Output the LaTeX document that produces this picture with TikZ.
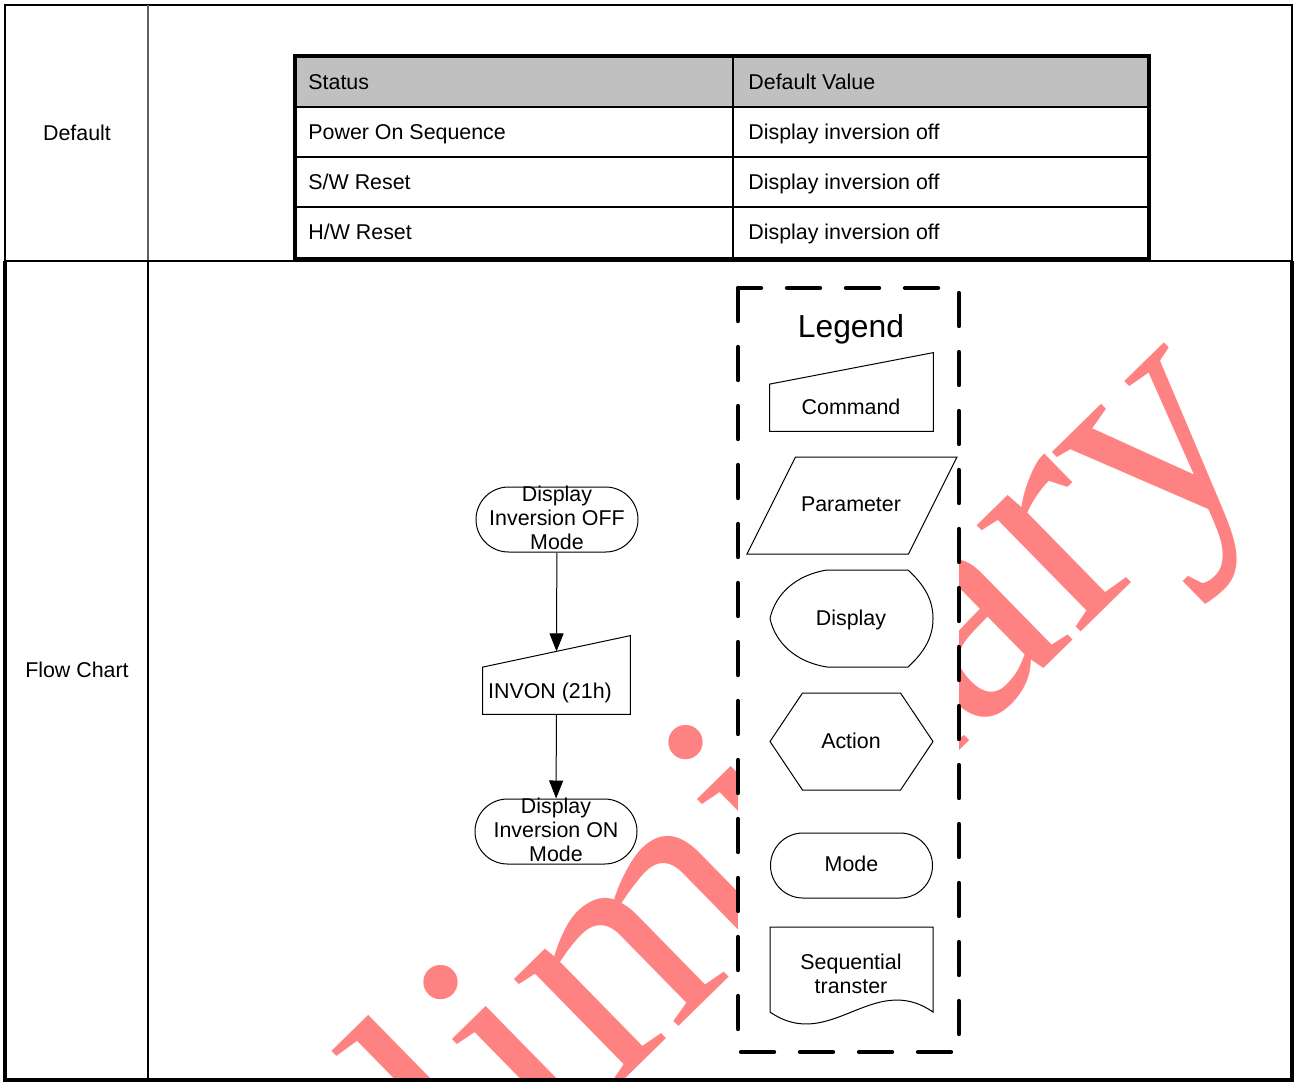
\documentclass[tikz,border=0pt]{standalone}
\usepackage{fontspec}
\setmainfont{Liberation Sans}
\newfontfamily\markfont{Liberation Serif}
\usetikzlibrary{arrows.meta,calc,shapes.misc}
\definecolor{Mark}{HTML}{FF8282}
\definecolor{Head}{HTML}{C0C0C0}
\definecolor{Rule}{HTML}{606060}
\tikzset{
  txt/.style={font=\fontsize{10.7pt}{12pt}\selectfont,align=center,inner sep=0pt},
  cell/.style={txt,anchor=base west},
  outline/.style={line width=0.5pt},
  mode/.style={draw,outline,fill=white,rounded rectangle,minimum width=81pt,minimum height=32.5pt,inner sep=0pt},
  cmdnode/.style={rectangle,minimum height=39pt,inner sep=0pt},
  flow/.style={outline,-{Triangle[length=9pt,width=7pt]}},
  legendbox/.style={fill=white,line width=2.2pt,line cap=round,dash pattern=on 16.5pt off 13pt},
  watermark/.style={font=\markfont\fontsize{162pt}{162pt}\selectfont,text=Mark,rotate=44.4,anchor=base west,inner sep=0pt}
}
\newcommand{\cmdbox}[1]{%
  \draw[outline] (#1.south west) -- (#1.south east) -- (#1.north east)
    -- ($(#1.north west)!0.4!(#1.south west)$) -- cycle;
}
\newcommand{\paramshape}[2]{%
  \draw[outline] (#1-105,#2+48.5) -- ++(161.5,0) -- ++(48.5,-97) -- ++(-161.5,0) -- cycle;
}
\newcommand{\dispshape}[2]{%
  \draw[outline] (#1+56.5,#2-48.5) -- (#1-24.5,#2-48.5)
    .. controls (#1-56.5,#2-43.5) and (#1-76.5,#2-23.5) .. (#1-81.5,#2)
    .. controls (#1-76.5,#2+23.5) and (#1-56.5,#2+43.5) .. (#1-24.5,#2+48.5)
    -- (#1+56.5,#2+48.5) .. controls (#1+73.5,#2+33) and (#1+81.5,#2+18) .. (#1+81.5,#2)
    .. controls (#1+81.5,#2-18) and (#1+73.5,#2-33) .. cycle;
}
\newcommand{\actionshape}[2]{%
  \draw[outline] (#1-81.5,#2) -- ++(32.5,-48.5) -- ++(98,0) -- ++(32.5,48.5)
    -- ++(-32.5,48.5) -- ++(-98,0) -- cycle;
}
\newcommand{\seqshape}[2]{%
  \draw[outline] (#1-81.5,#2-42.5) -- ++(163,0) -- ++(0,85)
    .. controls (#1+21.5,#2+1) and (#1-21.5,#2+84) .. (#1-81.5,#2+42.5) -- cycle;
}

\begin{document}
\begin{tikzpicture}[x=0.5pt,y=-0.5pt]
  \useasboundingbox (0,0) rectangle (1294,1082);
  \begin{scope}
    \clip (5,5) rectangle (1292,1080);
    \node[watermark] (wm) at (175.5,1518.5) {Preliminary};
  \end{scope}
  % outer frame
  \draw[line width=1pt] (5,261) -- (5,5) -- (1292,5) -- (1292,261);
  \draw[line width=1pt,Rule] (148,5) -- (148,261);
  \draw[line width=1pt] (5,261) -- (1292,261);
  \draw[line width=1.8pt] (5,261) -- (5,1080) -- (1292,1080) -- (1292,261);
  \draw[line width=1.2pt] (148,261) -- (148,1080);
  \node[txt] (default) at (77,133) {Default};
  \node[txt] (flowchart) at (77,670) {Flow Chart};
  % default value table
  \fill[Head] (295,56) rectangle (1149,107);
  \draw[line width=0.8pt] (295,107) -- (1149,107) (295,157) -- (1149,157) (295,207) -- (1149,207)
    (733,56) -- (733,259);
  \draw[line width=2pt] (295,56) rectangle (1149,259);
  \node[cell] (status) at (308,89.5) {Status};
  \node[cell] (defval) at (748,89.5) {Default Value};
  \node[cell] (pwron) at (308,139.5) {Power On Sequence};
  \node[cell] (pwronval) at (748,139.5) {Display inversion off};
  \node[cell] (swrst) at (308,189.5) {S/W Reset};
  \node[cell] (swrstval) at (748,189.5) {Display inversion off};
  \node[cell] (hwrst) at (308,239.5) {H/W Reset};
  \node[cell] (hwrstval) at (748,239.5) {Display inversion off};
  % legend
  \draw[legendbox] (738,288) rectangle (959,1052);
  \node[txt,font=\fontsize{15.9pt}{18pt}\selectfont] (legend) at (851,329) {Legend};
  \node[cmdnode,minimum width=81.5pt] (lcmd) at (851.5,392) {};
  \cmdbox{lcmd}
  \node[txt] (lcmdtxt) at (851,407) {Command};
  \paramshape{852}{505.5}
  \node[txt] (lpar) at (851,504) {Parameter};
  \dispshape{851.5}{618.5}
  \node[txt] (ldisp) at (851,620) {Display};
  \actionshape{851.5}{741.5}
  \node[txt] (lact) at (851,741) {Action};
  \node[mode] (lmode) at (851.5,865.5) {};
  \node[txt,yshift=1pt] (lmodetxt) at (lmode) {Mode};
  \seqshape{851.5}{969.5}
  \node[txt] (lseq) at (851,974) {Sequential\\transter};
  % flow chart
  \node[mode] (off) at (557,519.5) {};
  \node[txt,yshift=1pt] (offtxt) at (off) {Display\\Inversion OFF\\Mode};
  \node[cmdnode,minimum width=73.5pt] (invon) at (556.5,675) {};
  \cmdbox{invon}
  \node[txt] (invontxt) at (550,693) {INVON (21h)};
  \node[mode] (on) at (556,831.5) {};
  \node[txt,yshift=1pt] (ontxt) at (on) {Display\\Inversion ON\\Mode};
  \coordinate (invon-top) at ($($(invon.north west)!0.4!(invon.south west)$)!0.5!(invon.north east)$);
  \draw[flow] (off) -- (invon-top);
  \draw[flow] (invon) -- (on);
\end{tikzpicture}
\end{document}
